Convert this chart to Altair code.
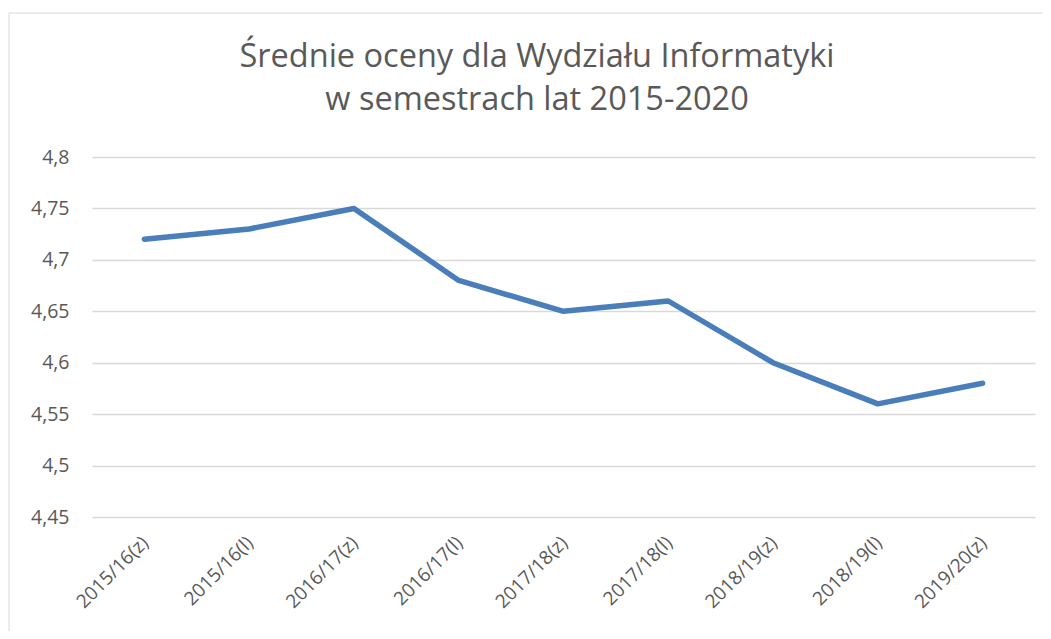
import altair as alt
import pandas as pd

semesters = ["2015/16(z)", "2015/16(l)", "2016/17(z)", "2016/17(l)", "2017/18(z)",
             "2017/18(l)", "2018/19(z)", "2018/19(l)", "2019/20(z)"]
averages = [4.72, 4.73, 4.75, 4.68, 4.65, 4.66, 4.60, 4.56, 4.58]
y_ticks = [4.45, 4.5, 4.55, 4.6, 4.65, 4.7, 4.75, 4.8]
title_lines = ["Średnie oceny dla Wydziału Informatyki", "w semestrach lat 2015-2020"]

df = pd.DataFrame({"semestr": semesters, "srednia": averages})

FONT = "Open Sans"
TXT = "#595959"

frame = alt.Chart(pd.DataFrame({"a": [0]})).mark_rect(
    filled=False, stroke="#D9D9D9", strokeWidth=1
).encode(
    x=alt.value(-83), x2=alt.value(1100), y=alt.value(-144), y2=alt.value(700)
)

title = alt.Chart(pd.DataFrame({"a": [0]})).mark_text(
    font=FONT, fontSize=32.5, color=TXT, align="center", baseline="alphabetic", lineHeight=43
).encode(
    x=alt.value(445), y=alt.value(-90), text=alt.value(title_lines)
)

line = alt.Chart(df).mark_line(
    color="#4A7EBB", strokeWidth=5.5, strokeCap="round", strokeJoin="round"
).encode(
    x=alt.X("semestr:N", sort=semesters,
            scale=alt.Scale(paddingInner=1, paddingOuter=0.5),
            axis=alt.Axis(title=None, labelAngle=-45, labelFontSize=19, labelFont=FONT,
                          labelColor=TXT, ticks=False, domain=False, grid=False,
                          labelPadding=16, labelOffset=-6)),
    y=alt.Y("srednia:Q",
            scale=alt.Scale(domain=[4.45, 4.8], nice=False, zero=False),
            axis=alt.Axis(title=None, values=y_ticks, labelExpr="replace(format(datum.value, '.2~f'), '.', ',')",
                          labelFontSize=19.5, labelFont=FONT, labelColor=TXT, ticks=False,
                          domain=False, gridColor="#D9D9D9", gridWidth=1.3, labelPadding=23))
)

chart = alt.layer(frame, title, line).properties(
    width=943, height=360,
    autosize=alt.AutoSizeParams(type="none"),
    padding={"left": 84, "top": 149, "right": 8, "bottom": 114},
).configure_view(stroke=None)

chart.save("out.html", embed_options={"renderer": "svg", "actions": False})
